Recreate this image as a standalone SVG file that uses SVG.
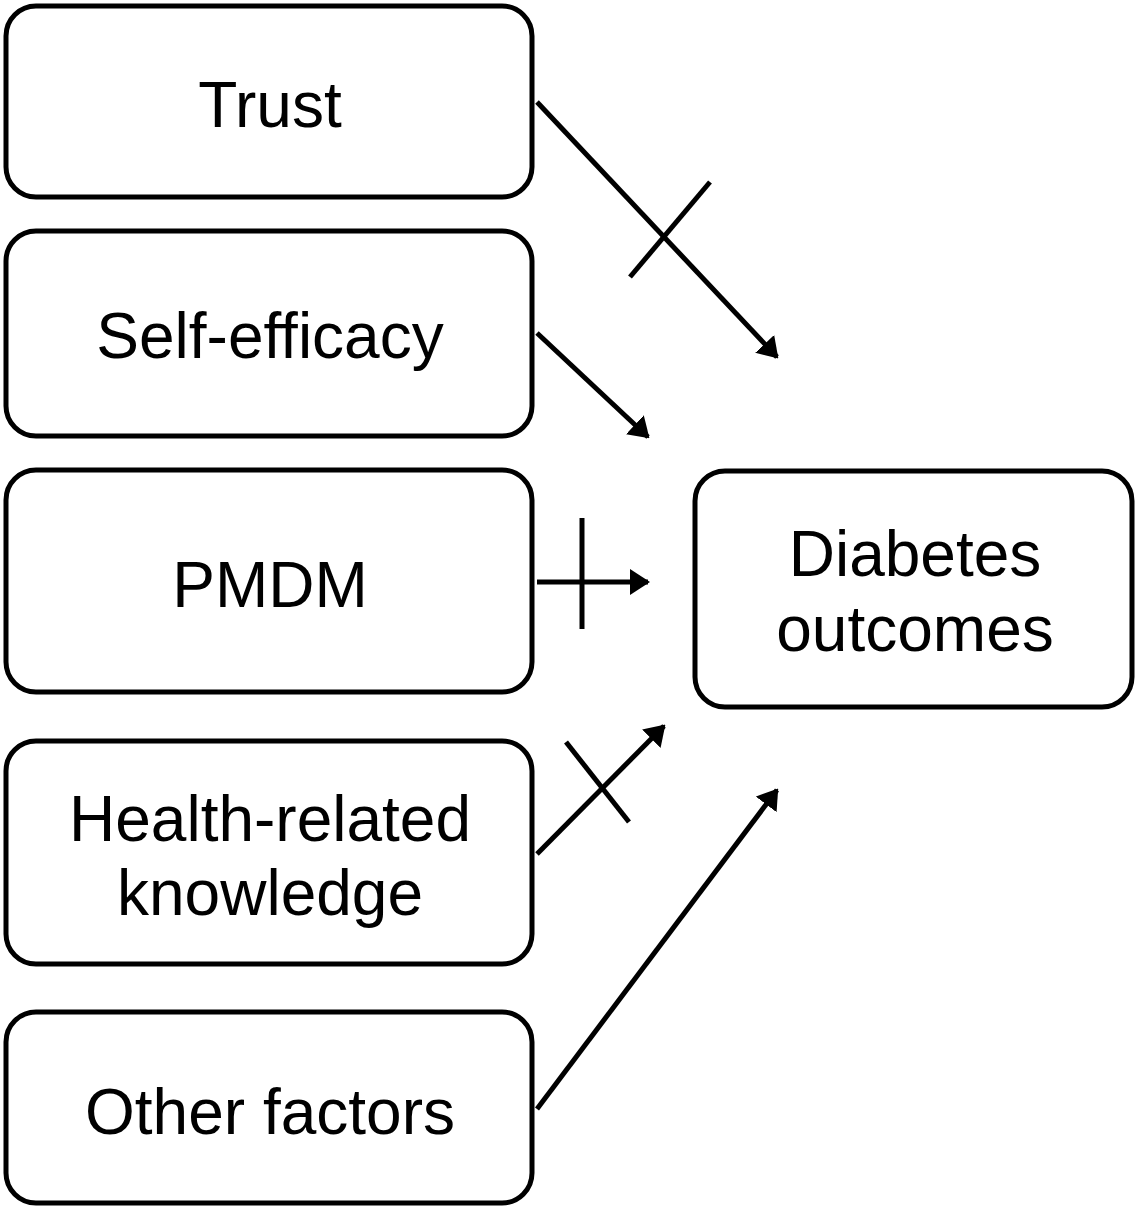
<svg xmlns="http://www.w3.org/2000/svg" width="1136" height="1207" viewBox="0 0 1136 1207">
  <style>
    .box { fill: #ffffff; stroke: #000000; stroke-width: 5; }
    .label { font-family: "Liberation Sans", Arial, sans-serif; font-size: 64px; fill: #000000; text-anchor: middle; }
    .edge { stroke: #000000; stroke-width: 5; fill: none; }
    .tick { stroke: #000000; stroke-width: 5; fill: none; }
  </style>
  <defs>
    <marker id="arrow" viewBox="0 0 20 26" refX="18" refY="13" markerUnits="userSpaceOnUse" markerWidth="20" markerHeight="26" orient="auto">
      <path d="M0,0 L20,13 L0,26 Z" fill="#000000"/>
    </marker>
  </defs>
  <rect width="1136" height="1207" fill="#ffffff"/>

  <g id="node-trust">
    <rect class="box" x="6" y="6" width="526" height="191" rx="30" ry="30"/>
    <text class="label" x="270" y="127">Trust</text>
  </g>
  <g id="node-self-efficacy">
    <rect class="box" x="6" y="231" width="526" height="205" rx="30" ry="30"/>
    <text class="label" x="270" y="358">Self-efficacy</text>
  </g>
  <g id="node-pmdm">
    <rect class="box" x="6" y="470" width="526" height="222" rx="30" ry="30"/>
    <text class="label" x="270" y="607">PMDM</text>
  </g>
  <g id="node-knowledge">
    <rect class="box" x="6" y="741" width="526" height="223" rx="30" ry="30"/>
    <text class="label" x="270" y="841">Health-related</text>
    <text class="label" x="270" y="915">knowledge</text>
  </g>
  <g id="node-other">
    <rect class="box" x="6" y="1012" width="526" height="191" rx="30" ry="30"/>
    <text class="label" x="270" y="1134">Other factors</text>
  </g>
  <g id="node-outcomes">
    <rect class="box" x="695" y="471" width="437" height="236" rx="30" ry="30"/>
    <text class="label" x="915" y="576">Diabetes</text>
    <text class="label" x="915" y="651">outcomes</text>
  </g>

  <g id="connectors">
    <!-- Trust -> outcomes, crossed out -->
    <line class="edge" x1="537" y1="102" x2="777" y2="357" marker-end="url(#arrow)"/>
    <line class="tick" x1="630" y1="277" x2="710" y2="182"/>
    <!-- Self-efficacy -> outcomes -->
    <line class="edge" x1="537" y1="333" x2="648" y2="437" marker-end="url(#arrow)"/>
    <!-- PMDM -> outcomes, crossed out -->
    <line class="edge" x1="537" y1="582" x2="648" y2="582" marker-end="url(#arrow)"/>
    <line class="tick" x1="582" y1="518" x2="582" y2="629"/>
    <!-- Health-related knowledge -> outcomes, crossed out -->
    <line class="edge" x1="537" y1="854" x2="664" y2="726" marker-end="url(#arrow)"/>
    <line class="tick" x1="566" y1="742" x2="629" y2="822"/>
    <!-- Other factors -> outcomes -->
    <line class="edge" x1="537" y1="1109" x2="777" y2="790" marker-end="url(#arrow)"/>
  </g>
</svg>
